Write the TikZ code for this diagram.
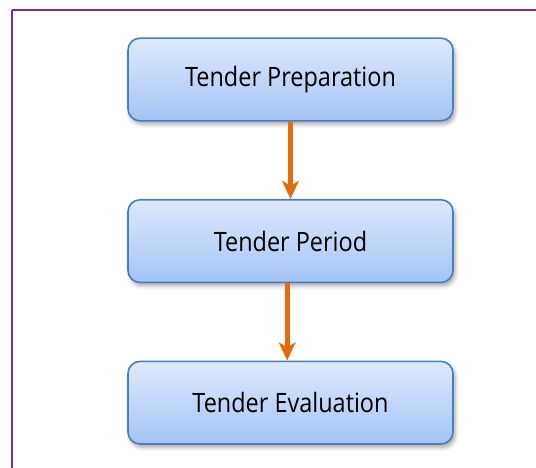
\documentclass[tikz,border=0pt]{standalone}
\usepackage{fontspec}
\newfontfamily\stagefont{Open Sans}[FakeStretch=0.88]
\usepackage{tikz}
\usetikzlibrary{positioning,arrows.meta,shadows.blur}
\definecolor{boxtop}{RGB}{222,233,252}
\definecolor{boxbot}{RGB}{163,196,245}
\definecolor{boxline}{RGB}{74,126,187}
\definecolor{flowcol}{RGB}{228,108,10}
\definecolor{framecol}{RGB}{112,48,160}

\begin{document}
\begin{tikzpicture}[x=0.75pt,y=0.75pt,
  stage/.style={draw=boxline,line width=1.2pt,rounded corners=9pt,
    top color=boxtop,bottom color=boxbot,
    minimum width=243.75pt,minimum height=62pt,
    font=\stagefont\fontsize{20}{24}\selectfont,
    blur shadow={shadow xshift=1.5pt,shadow yshift=-2.5pt,
      shadow blur radius=3pt,shadow opacity=35}},
  flow/.style={draw=flowcol,line width=4pt,
    -{Stealth[length=13.5pt,width=12.5pt,inset=3.5pt]}},
  node distance=58pt]
  % 画面の範囲
  \useasboundingbox (0,0) rectangle (536,468);
  \clip (0,0) rectangle (536,468);

  % 枠（左と上だけ）
  \draw[framecol,line width=1.1pt] (12,-10) -- (12,458);
  \draw[framecol,line width=1.1pt] (11.6,458) -- (560,458);

  % 三つの段階
  \node[stage] (prep) at (290.5,388.5) {Tender Preparation};
  \node[stage,below=of prep] (period) {Tender Period};
  \node[stage,below=of period] (eval) {Tender Evaluation};

  % 矢印
  \draw[flow] (prep.south) -- (period.north);
  \draw[flow] ([xshift=-2.5pt]period.south) -- ([xshift=-2.5pt]eval.north);
\end{tikzpicture}
\end{document}
